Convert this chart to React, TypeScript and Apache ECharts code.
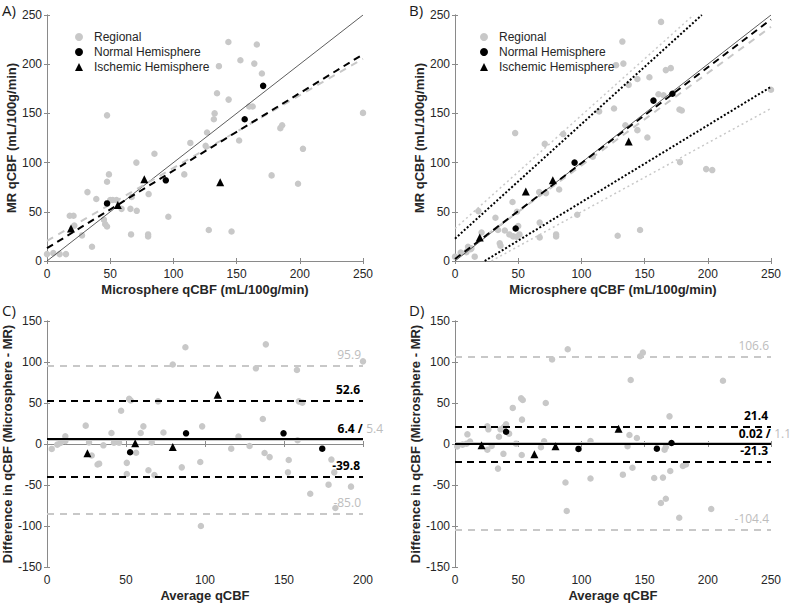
import React, { useEffect, useRef } from "react";
import * as echarts from "echarts";

// ---------- DATA ----------
// Panel A: Microsphere qCBF (x) vs MR qCBF (y), uncorrected
const regionalA: number[][] = [
  [0, 7], [5, 8], [10, 7], [15, 7], [18, 46], [21, 46], [21.6, 36], [27.7, 26], [32, 70], [35.6, 14.5],
  [39, 63], [45, 42], [46, 37.5], [47.5, 148], [47.5, 80.5], [49, 88], [47.5, 35], [50, 62], [52, 62], [55, 62],
  [59, 53], [66, 53], [66.5, 27], [67, 65], [70.7, 100], [71, 51], [80, 25], [80, 27], [80.4, 68], [85, 109],
  [96, 45], [108.6, 88], [113.4, 120], [125.5, 117], [126.6, 130.6], [128, 31.5], [132, 144], [132.6, 150],
  [134.5, 170.5], [136, 198], [143.5, 222.6], [143.7, 164], [146, 30], [152, 122.5], [153, 204], [160, 157],
  [162.7, 157], [164, 200.6], [166, 220], [170, 190.5], [177.7, 87], [184.6, 135], [186, 138], [198.6, 78.5],
  [202.5, 114], [250, 150.5],
];
const normalA: number[][] = [[47.5, 58.5], [94, 82], [156.4, 144], [171, 178]];
const ischemicA: number[][] = [[19, 33], [56, 57], [77, 83], [137, 80]];
const identityLine: number[][] = [[0, 0], [250, 250]];
const fitBlackA: number[][] = [[0, 13], [250, 210]];
const fitGrayA: number[][] = [[0, 20.5], [250, 205.5]];

// Panel B: corrected
const regionalB: number[][] = [
  [0, 4.4], [4.5, 8.5], [9, 9], [10.3, 14.5], [12.4, 12], [13, 13], [15.6, 4.4], [18.5, 50.7], [21, 29],
  [32, 44], [34, 31.5], [35.4, 18], [36, 15.6], [39.4, 31], [43, 27], [45.5, 60], [46, 25], [47.6, 130],
  [48.6, 24.7], [49, 50], [50, 35.5], [51, 27], [66.6, 70], [67, 39], [67, 24], [71, 119], [72, 69], [80, 27],
  [80, 25], [82.4, 72.7], [85.6, 129], [96.7, 47], [109, 106], [114, 152], [125.8, 155], [127.4, 199],
  [128.7, 25.7], [132.4, 223], [133.2, 200.6], [134.8, 138], [137.4, 179], [144.3, 133], [144.3, 185],
  [146.4, 31.5], [152.2, 125.5], [153.8, 186.7], [161, 169.5], [163, 243], [165, 168.5], [166.8, 194],
  [170.7, 196], [177.6, 154], [179.4, 153], [178, 100.5], [198.7, 93.4], [203.5, 92.4], [250, 174],
];
const normalB: number[][] = [[48, 33], [94.6, 100], [157, 163], [172, 170]];
const ischemicB: number[][] = [[19.6, 24], [56, 70.7], [77.4, 82], [137.4, 121.4]];
const fitBlackB: number[][] = [[0, 2], [250, 245.5]];
const fitGrayB: number[][] = [[0, 3], [250, 238]];
const boundUpperBlackB: number[][] = [[0, 22.7], [195.3, 250]];
const boundLowerBlackB: number[][] = [[23.5, 0], [250, 177]];
const boundUpperGrayB: number[][] = [[0, 33], [188.7, 250]];
const boundLowerGrayB: number[][] = [[28.8, 0], [250, 155]];

// Panel C: Bland-Altman, uncorrected
const regionalC: number[][] = [
  [3, -6], [6.5, -0.8], [8.5, 1.2], [11.6, 9.3], [11.6, 3.7], [24.5, 22.4], [26.6, 2], [28.3, -14], [32, -25],
  [33, -24], [35.7, -1.6], [40.8, 13.4], [42.4, 1.6], [45.6, 1.6], [46.9, 40.6], [50.5, -23], [50.5, -36.6],
  [52, 55], [53, 53], [56.4, -10.6], [59.3, 13.4], [61, 21.5], [64.2, -32], [66.3, 2], [68, -37.8], [70.3, 52],
  [73.7, 14], [85.3, -28.5], [79.6, 97], [87.6, 118], [97, -22], [97.4, -100], [98.2, 21.5], [116.6, -5.7],
  [121.2, 9], [128.2, -2.4], [132.2, 92.3], [136.6, 30.5], [137.7, -11], [138.5, 121.5], [140.9, -16],
  [153, -19.5], [152.5, -34.6], [158.2, 90.2], [158.6, 4.5], [159.4, 52], [161.6, 50.4], [166.6, -60.6],
  [178.2, -49.6], [180, -19], [181.8, -34.6], [182.5, -78], [192.4, -52], [200, 100.8],
];
const normalC: number[][] = [[52.6, -10], [88, 13], [149.7, 13], [174.2, -5.7]];
const ischemicC: number[][] = [[25.6, -11.4], [55.8, 0.8], [79.6, -3.7], [108, 60]];
const meanC = 6.4;
const meanRegC = 5.4;
const loaC = [52.6, -39.8];
const loaRegC = [95.9, -85.0];

// Panel D: Bland-Altman, corrected
const regionalD: number[][] = [
  [1.8, -3], [6, -0.8], [9.2, 0.4], [9.8, 11.8], [11.9, 3], [25.6, -7], [25.6, 21.5], [26.4, 17.9], [29, -2.4],
  [34, -30], [34.8, 8.9], [36, 17.9], [38.3, -12], [38.8, 20.7], [40.4, 24], [42.8, 12.6], [45.7, 44], [48.3, 0.4],
  [52.3, 55.7], [53.6, 53.7], [52.8, -13.4], [53, 29.7], [68, -4], [70.5, 3.3], [71.8, 50], [87.4, -47],
  [88.4, -81.7], [89.2, 115.5], [76.8, 103.2], [107.2, -42], [107.2, 3.7], [132.8, -37.4], [136.5, -2.8],
  [138, 11], [139, 78], [140.4, -28.9], [143.9, 7.3], [146.5, 107], [148.6, 111.4], [157.6, -41.5], [162.9, -72],
  [164.5, -41], [165.8, -7], [166.8, -3.7], [166.8, -66.7], [169.7, 33.7], [170.3, -33], [177.4, -90],
  [180.3, -26.8], [182.7, -25], [202.7, -79.3], [212, 77.2],
];
const normalD: number[][] = [[40.4, 15], [97.7, -6], [159.7, -5.7], [171.3, 1.2]];
const ischemicD: number[][] = [[21, -1.6], [62.8, -12.6], [79.5, -2.8], [129.4, 18.7]];
const meanD = "0.02";
const meanRegD = 1.1;
const loaD = [21.4, -21.3];
const loaRegD = [106.6, -104.4];

const scatterXTicksAB = { min: 0, max: 250, interval: 50 };
const xTicksC = { min: 0, max: 200, interval: 50 };
const xTicksD = { min: 0, max: 250, interval: 50 };
const yTicksAB = { min: 0, max: 250, interval: 50 };
const yTicksCD = { min: -150, max: 150, interval: 50 };

const titleXAB = "Microsphere qCBF (mL/100g/min)";
const titleYAB = "MR qCBF (mL/100g/min)";
const titleXCD = "Average qCBF";
const titleYCD = "Difference in qCBF (Microsphere - MR)";
const legendNames = ["Regional", "Normal Hemisphere", "Ischemic Hemisphere"];
const panelLetters = ["A)", "B)", "C)", "D)"];

// ---------- STYLE ----------
const GRAY = "#c8c8c8";
const BLACK = "#000000";
const AXIS = "#8a8a8a";
const TXT = "#262626";
const SANS = "'Liberation Sans', Arial, sans-serif";
const CAL = "'Open Sans', 'Noto Sans', sans-serif";

const grids = [
  { left: 47, top: 15, width: 316, height: 246 },
  { left: 455, top: 15, width: 316, height: 246 },
  { left: 47, top: 321, width: 316, height: 246 },
  { left: 455, top: 321, width: 316, height: 246 },
];

function mainX(gi: number, ticks: any, name: string) {
  return {
    type: "value", gridIndex: gi, ...ticks, position: "bottom",
    name, nameLocation: "middle", nameGap: 22,
    nameTextStyle: { fontFamily: SANS, fontSize: 13, fontWeight: "bold", color: TXT, verticalAlign: "top" },
    axisLine: { show: true, lineStyle: { color: AXIS, width: 1 } },
    axisTick: { show: true, inside: true, length: 3, lineStyle: { color: AXIS } },
    axisLabel: { fontFamily: SANS, fontSize: 12, color: TXT, margin: 7 },
    splitLine: { show: false },
  };
}
function topX(gi: number, ticks: any) {
  return {
    type: "value", gridIndex: gi, ...ticks, position: "top",
    axisLine: { show: true, lineStyle: { color: AXIS, width: 1 } },
    axisTick: { show: true, inside: true, length: 3, lineStyle: { color: AXIS } },
    axisLabel: { show: false }, splitLine: { show: false },
  };
}
function mainY(gi: number, ticks: any, name: string, gap: number) {
  return {
    type: "value", gridIndex: gi, ...ticks, position: "left",
    name, nameLocation: "middle", nameGap: gap,
    nameTextStyle: { fontFamily: SANS, fontSize: 13, fontWeight: "bold", color: TXT },
    axisLine: { show: true, lineStyle: { color: AXIS, width: 1 } },
    axisTick: { show: true, inside: true, length: 3, lineStyle: { color: AXIS } },
    axisLabel: { fontFamily: SANS, fontSize: 12, color: TXT, margin: 5 },
    splitLine: { show: false },
  };
}
function rightY(gi: number, ticks: any) {
  return {
    type: "value", gridIndex: gi, ...ticks, position: "right",
    axisLine: { show: true, lineStyle: { color: AXIS, width: 1 } },
    axisTick: { show: true, inside: true, length: 3, lineStyle: { color: AXIS } },
    axisLabel: { show: false }, splitLine: { show: false },
  };
}

function points(gi: number, data: number[][], kind: number, z: number) {
  return {
    type: "scatter", name: legendNames[kind], xAxisIndex: gi * 2, yAxisIndex: gi * 2, data,
    symbol: kind === 2 ? "triangle" : "circle",
    symbolSize: kind === 0 ? 6.5 : kind === 1 ? 6.5 : 8,
    itemStyle: { color: kind === 0 ? GRAY : BLACK, opacity: 1 },
    z, silent: true,
  };
}
function seg(gi: number, data: number[][], color: string, width: number, type: any, z: number) {
  return {
    type: "line", xAxisIndex: gi * 2, yAxisIndex: gi * 2, data, symbol: "none", clip: true,
    lineStyle: { color, width, type }, z, silent: true,
  };
}

function hLines(gi: number, mean: string | number, meanReg: number, loa: number[], loaReg: number[]) {
  const boldLbl = (v: number) => ({
    show: true, position: "insideEndTop", distance: 5, formatter: String(v),
    fontFamily: CAL, fontSize: 12, fontWeight: "bold", color: BLACK, offset: [2, 0],
  });
  const grayLbl = (v: number) => ({
    show: true, position: "insideEndTop", distance: 5, formatter: v.toFixed(1),
    fontFamily: CAL, fontSize: 12, color: "#bdbdbd", offset: [3, 0],
  });
  const grayDash = { color: GRAY, width: 2, type: [7, 6] };
  const blackDash = { color: BLACK, width: 2, type: [7, 5] };
  const meanLabel = {
    show: true, position: "insideEndTop", distance: 4,
    formatter: `{a|${mean} /} {b|${meanReg.toFixed(1)}}`,
    offset: [24, 0],
    rich: {
      a: { fontFamily: CAL, fontSize: 12, fontWeight: "bold", color: BLACK },
      b: { fontFamily: CAL, fontSize: 12, color: "#bdbdbd" },
    },
  };
  return {
    type: "line", xAxisIndex: gi * 2, yAxisIndex: gi * 2, data: [], silent: true, z: 3,
    markLine: {
      silent: true, symbol: "none", animation: false,
      data: [
        { yAxis: loaReg[0], lineStyle: grayDash, label: grayLbl(loaReg[0]) },
        { yAxis: loaReg[1], lineStyle: grayDash, label: grayLbl(loaReg[1]) },
        { yAxis: meanReg, lineStyle: { color: GRAY, width: 2, type: "solid" }, label: { show: false } },
        { yAxis: loa[0], lineStyle: blackDash, label: boldLbl(loa[0]) },
        { yAxis: loa[1], lineStyle: blackDash, label: boldLbl(loa[1]) },
        { yAxis: Number(mean), lineStyle: { color: BLACK, width: 2, type: "solid" }, label: meanLabel },
      ],
    },
  };
}

export default function App() {
  const ref = useRef<HTMLDivElement>(null);
  useEffect(() => {
    if (!ref.current) return;
    const chart = echarts.init(ref.current, undefined, { renderer: "svg" });
    const xAxis: any[] = [];
    const yAxis: any[] = [];
    const xt = [scatterXTicksAB, scatterXTicksAB, xTicksC, xTicksD];
    const yt = [yTicksAB, yTicksAB, yTicksCD, yTicksCD];
    for (let gi = 0; gi < 4; gi++) {
      xAxis.push(mainX(gi, xt[gi], gi < 2 ? titleXAB : titleXCD));
      xAxis.push(topX(gi, xt[gi]));
      yAxis.push(mainY(gi, yt[gi], gi < 2 ? titleYAB : titleYCD, gi < 2 ? 25 : 32));
      yAxis.push(rightY(gi, yt[gi]));
    }
    const dash = [7, 5];
    const gdash = [7, 6];
    const series: any[] = [
      // A
      points(0, regionalA, 0, 2),
      seg(0, identityLine, "#333333", 0.8, "solid", 3),
      seg(0, fitGrayA, GRAY, 2, gdash, 3),
      seg(0, fitBlackA, BLACK, 2, dash, 4),
      points(0, normalA, 1, 5),
      points(0, ischemicA, 2, 5),
      // B
      points(1, regionalB, 0, 2),
      seg(1, identityLine, "#333333", 0.8, "solid", 3),
      seg(1, boundUpperGrayB, GRAY, 1.5, [2, 3], 3),
      seg(1, boundLowerGrayB, GRAY, 1.5, [2, 3], 3),
      seg(1, boundUpperBlackB, BLACK, 2, [2, 2], 4),
      seg(1, boundLowerBlackB, BLACK, 2, [2, 2], 4),
      seg(1, fitGrayB, GRAY, 2, gdash, 3),
      seg(1, fitBlackB, BLACK, 2, dash, 4),
      points(1, normalB, 1, 5),
      points(1, ischemicB, 2, 5),
      // C
      points(2, regionalC, 0, 2),
      hLines(2, meanC, meanRegC, loaC, loaRegC),
      points(2, normalC, 1, 5),
      points(2, ischemicC, 2, 5),
      // D
      points(3, regionalD, 0, 2),
      hLines(3, meanD, meanRegD, loaD, loaRegD),
      points(3, normalD, 1, 5),
      points(3, ischemicD, 2, 5),
    ];
    const legendBase = {
      orient: "vertical", itemWidth: 8, itemHeight: 8, itemGap: 3,
      textStyle: { fontFamily: SANS, fontSize: 12, color: TXT, padding: [0, 0, 0, 6] },
      data: [
        { name: legendNames[0], icon: "circle" },
        { name: legendNames[1], icon: "circle" },
        { name: legendNames[2], icon: "triangle" },
      ],
      selectedMode: false,
    };
    const letterStyle = (t: string) => ({ text: t, font: `15px ${CAL}`, fill: "#1a1a1a" });
    chart.setOption({
      animation: false,
      backgroundColor: "#ffffff",
      grid: grids.map((g) => ({ ...g, show: false, containLabel: false })),
      xAxis, yAxis, series,
      legend: [
        { ...legendBase, left: 70, top: 26 },
        { ...legendBase, left: 475, top: 26 },
      ],
      graphic: [
        { type: "text", left: 2, top: 2, style: letterStyle(panelLetters[0]) },
        { type: "text", left: 409, top: 2, style: letterStyle(panelLetters[1]) },
        { type: "text", left: 2, top: 302, style: letterStyle(panelLetters[2]) },
        { type: "text", left: 409, top: 302, style: letterStyle(panelLetters[3]) },
      ],
    });
    return () => chart.dispose();
  }, []);
  return <div ref={ref} style={{ width: 800, height: 604, position: "absolute", left: 0, top: 0 }} />;
}
